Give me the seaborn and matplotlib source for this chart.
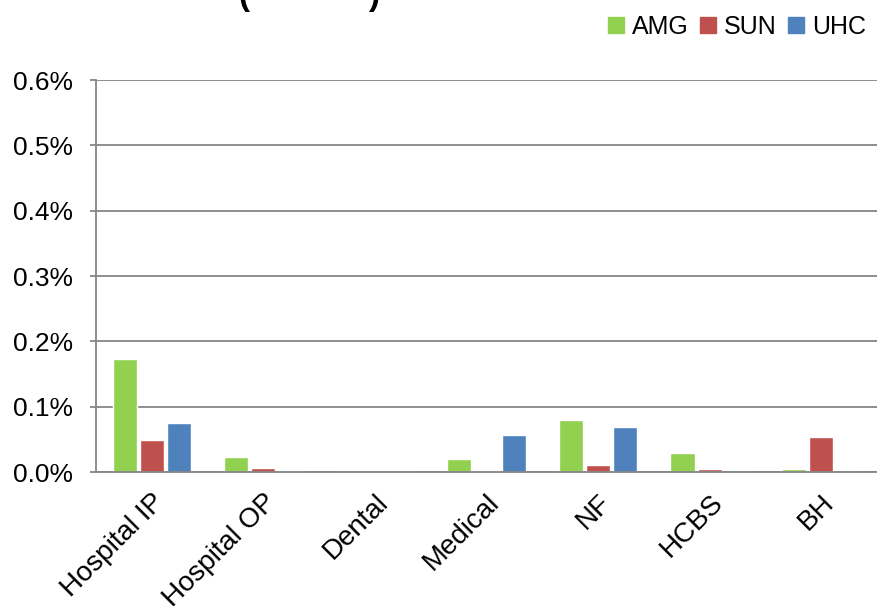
import matplotlib
matplotlib.use("Agg")
import matplotlib.pyplot as plt
from matplotlib.ticker import FuncFormatter, MultipleLocator
from matplotlib.lines import Line2D
import pandas as pd
import seaborn as sns

# Rates by service category (in percent)
categories = ["Hospital IP", "Hospital OP", "Dental", "Medical", "NF", "HCBS", "BH"]
plans = ["AMG", "SUN", "UHC"]
amg = [0.173, 0.0225, 0.0005, 0.0195, 0.080, 0.029, 0.005]
sun = [0.0496, 0.0057, 0.0026, 0.0010, 0.011, 0.0040, 0.053]
uhc = [0.0746, 0.0010, 0.0000, 0.0570, 0.069, 0.0005, 0.000]
plan_colors = ["#92D050", "#C0504D", "#4F81BD"]

rows = []
for plan, vals in zip(plans, [amg, sun, uhc]):
    for cat, v in zip(categories, vals):
        rows.append({"Category": cat, "Plan": plan, "Rate": v})
df = pd.DataFrame(rows)

sns.set_style("white")
plt.rcParams["font.family"] = ["Liberation Sans", "DejaVu Sans"]
plt.rcParams["text.color"] = "black"
plt.rcParams["xtick.color"] = "black"
plt.rcParams["ytick.color"] = "black"

fig = plt.figure(figsize=(8.77, 6.06), dpi=100)
ax = fig.add_axes([96 / 877, 1 - 472 / 606, 1 - 96 / 877, (472 - 80) / 606])

sns.barplot(data=df, x="Category", y="Rate", hue="Plan", order=categories,
            hue_order=plans, palette=plan_colors, width=0.73, gap=0.11,
            saturation=1, errorbar=None, legend=False, ax=ax)

grid_col = "#868686"
ax.set_ylim(0, 0.6)
ax.set_xlim(-0.5, len(categories) - 0.5)
ax.yaxis.set_major_locator(MultipleLocator(0.1))
ax.yaxis.set_major_formatter(FuncFormatter(lambda v, _: f"{v:.1f}%"))
ax.yaxis.grid(True, color=grid_col, linewidth=1.3)
ax.set_axisbelow(True)
for side in ["top", "right"]:
    ax.spines[side].set_visible(False)
for side in ["left", "bottom"]:
    ax.spines[side].set_color(grid_col)
    ax.spines[side].set_linewidth(1.3)
ax.tick_params(axis="y", which="major", left=True, length=4.3, width=1.3,
               color=grid_col, labelcolor="black", labelsize=19, pad=12)
ax.tick_params(axis="x", bottom=False, labelcolor="black", labelsize=20, pad=9)
ax.set_xticks(range(len(categories)))
ax.set_xticklabels(categories, rotation=45, ha="right", va="top",
                   rotation_mode="anchor")
ax.set_xlabel("")
ax.set_ylabel("")

handles = [Line2D([], [], marker="s", linestyle="none", markersize=11,
                  markerfacecolor=c, markeredgecolor=c) for c in plan_colors]
fig.legend(handles, plans, loc="upper right", bbox_to_anchor=(1.013, 1.012),
           ncol=3, frameon=False, fontsize=18, handlelength=0.6,
           handletextpad=0.35, columnspacing=0.45)

# Title line sitting at the top edge
fig.text(238 / 877, 1 - 5 / 606, "(", fontsize=24, fontweight="bold",
         va="baseline", ha="left")
fig.text(368 / 877, 1 - 5 / 606, ")", fontsize=24, fontweight="bold",
         va="baseline", ha="left")

fig.savefig("out.png", dpi=100)
